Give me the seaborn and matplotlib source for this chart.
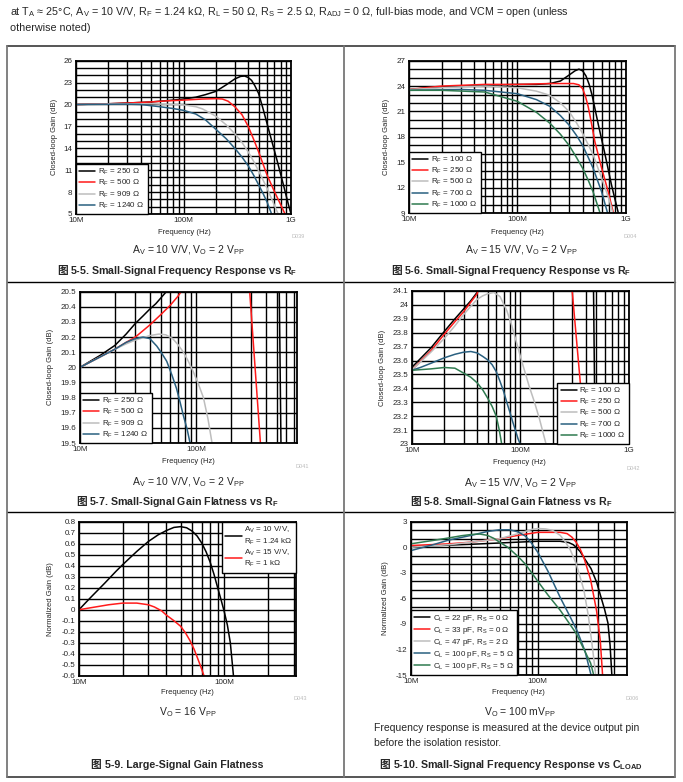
import numpy as np
import matplotlib
matplotlib.use("Agg")
import matplotlib.pyplot as plt
from matplotlib.lines import Line2D
from matplotlib.ticker import FixedLocator, LogLocator, FuncFormatter, NullFormatter
import seaborn as sns

sns.set_style("white")
plt.rcParams['font.family'] = ['Liberation Sans', 'Noto Sans CJK SC', 'DejaVu Sans']
plt.rcParams['mathtext.fontset'] = 'custom'
plt.rcParams['mathtext.rm'] = 'Liberation Sans'
plt.rcParams['mathtext.it'] = 'Liberation Sans:italic'
plt.rcParams['mathtext.bf'] = 'Liberation Sans:bold'

# ---- data (frequency in MHz, gain in dB) ----
# Fig 5-5
f55_250 = [10, 20, 30, 50, 80, 100, 130, 160, 200, 250, 300, 340, 370, 400, 430, 460, 500, 550, 640, 740, 850, 950, 1000]
g55_250 = [20.0, 20.1, 20.2, 20.35, 20.6, 20.75, 21.0, 21.35, 21.8, 22.7, 23.5, 23.85, 23.9, 23.7, 23.3, 22.6, 21.5, 19.4, 15.8, 12.4, 9.0, 6.2, 5.0]
f55_500 = [10, 20, 30, 50, 70, 100, 150, 200, 230, 260, 300, 350, 400, 450, 500, 600, 700, 800, 880]
g55_500 = [20.0, 20.1, 20.2, 20.35, 20.5, 20.6, 20.75, 20.8, 20.75, 20.45, 19.7, 18.6, 17.0, 15.2, 13.5, 10.3, 8.1, 6.3, 5.0]
f55_909 = [10, 30, 50, 80, 100, 130, 150, 200, 250, 300, 350, 400, 450, 500, 600, 700, 760]
g55_909 = [20.0, 20.1, 20.1, 20.0, 19.95, 19.7, 19.4, 18.4, 17.2, 16.0, 14.8, 13.5, 12.2, 10.9, 8.5, 6.2, 5.0]
f55_1240 = [10, 30, 40, 60, 80, 100, 130, 160, 200, 250, 300, 350, 400, 450, 500, 550, 600, 660]
g55_1240 = [20.0, 20.05, 20.0, 19.7, 19.45, 19.2, 18.7, 17.9, 16.6, 15.3, 14.0, 12.8, 11.6, 10.3, 9.0, 7.8, 6.6, 5.0]

# Fig 5-6
f56_100 = [10, 20, 30, 50, 100, 150, 200, 250, 300, 340, 370, 400, 430, 460, 490, 560, 645, 740, 855]
g56_100 = [23.6, 23.9, 24.0, 24.1, 24.2, 24.2, 24.3, 24.6, 25.3, 25.8, 26.0, 25.8, 25.2, 24.2, 22.9, 19.4, 15.9, 12.3, 9.0]
f56_250 = [10, 20, 50, 100, 200, 300, 330, 370, 400, 425, 450, 470, 520, 600, 690, 770]
g56_250 = [23.6, 24.0, 24.2, 24.2, 24.3, 24.3, 24.3, 24.15, 23.7, 22.8, 21.6, 20.4, 17.4, 14.3, 11.5, 9.0]
f56_500 = [10, 30, 50, 100, 150, 200, 250, 300, 350, 400, 450, 500, 600, 700, 760]
g56_500 = [23.6, 23.9, 24.0, 23.8, 23.4, 22.9, 22.0, 21.0, 19.7, 18.4, 17.1, 15.9, 13.1, 10.7, 9.0]
f56_700 = [10, 30, 50, 100, 150, 200, 250, 300, 350, 400, 450, 500, 600, 680]
g56_700 = [23.5, 23.6, 23.5, 23.1, 22.4, 21.6, 20.5, 19.4, 18.2, 17.0, 15.6, 14.3, 11.5, 9.0]
f56_1000 = [10, 20, 50, 100, 150, 200, 250, 300, 350, 400, 450, 500, 580]
g56_1000 = [23.5, 23.5, 23.3, 22.2, 20.9, 19.6, 18.3, 17.0, 15.6, 14.3, 12.9, 11.5, 9.0]

# Fig 5-7
f57_250 = [10, 15, 20, 25, 30, 35, 40, 45, 50, 57, 100, 300, 520, 545]
g57_250 = [20.0, 20.08, 20.145, 20.22, 20.29, 20.34, 20.385, 20.42, 20.46, 20.51, 21.0, 23.5, 20.7, 19.3]
f57_500 = [10, 15, 20, 25, 30, 40, 50, 60, 70, 76, 150, 291, 360, 380]
g57_500 = [20.0, 20.07, 20.12, 20.165, 20.2, 20.28, 20.35, 20.41, 20.47, 20.51, 20.9, 20.5, 19.5, 19.2]
f57_909 = [10, 15, 20, 25, 30, 40, 48, 55, 63, 70, 78, 86, 95, 105, 116, 127, 137, 145]
g57_909 = [20.0, 20.07, 20.12, 20.155, 20.18, 20.21, 20.22, 20.215, 20.19, 20.15, 20.1, 20.04, 19.97, 19.89, 19.8, 19.66, 19.51, 19.4]
f57_1240 = [10, 15, 20, 25, 30, 35, 40, 46, 51, 56, 62, 68, 73, 78, 84, 89, 95]
g57_1240 = [20.0, 20.07, 20.12, 20.165, 20.19, 20.2, 20.19, 20.14, 20.09, 20.04, 19.95, 19.86, 19.77, 19.68, 19.59, 19.5, 19.4]

# Fig 5-8
f58_100 = [10, 15, 20, 25, 30, 35, 40, 41, 100, 300, 470, 490, 520]
g58_100 = [23.55, 23.69, 23.81, 23.9, 23.97, 24.03, 24.09, 24.11, 25.0, 26.0, 24.2, 22.9, 20.0]
f58_250 = [10, 15, 20, 25, 30, 35, 40, 41, 100, 300, 362, 390]
g58_250 = [23.53, 23.67, 23.79, 23.88, 23.95, 24.02, 24.08, 24.11, 24.3, 24.1, 23.38, 22.9]
f58_500 = [10, 15, 20, 25, 30, 35, 40, 45, 50, 57, 65, 75, 82, 90, 100, 110, 120, 135, 150, 162, 175]
g58_500 = [23.53, 23.66, 23.76, 23.85, 23.93, 23.99, 24.04, 24.065, 24.08, 24.09, 24.06, 23.96, 23.87, 23.76, 23.63, 23.52, 23.42, 23.3, 23.18, 23.08, 22.98]
f58_700 = [10, 12, 15, 20, 25, 30, 35, 40, 45, 50, 55, 60, 65, 70, 75, 80, 85, 90, 95, 102]
g58_700 = [23.53, 23.55, 23.58, 23.62, 23.645, 23.66, 23.665, 23.655, 23.63, 23.605, 23.57, 23.52, 23.45, 23.38, 23.3, 23.23, 23.16, 23.1, 23.04, 22.98]
f58_1000 = [10, 15, 20, 25, 30, 35, 40, 45, 50, 55, 60, 64, 68]
g58_1000 = [23.53, 23.54, 23.55, 23.545, 23.51, 23.48, 23.44, 23.39, 23.33, 23.27, 23.2, 23.1, 22.98]

# Fig 5-9
f59_av10 = [10, 12, 15, 18, 20, 25, 30, 35, 40, 45, 50, 55, 60, 65, 70, 75, 80, 85, 90, 95, 100, 105, 110, 116]
g59_av10 = [0.0, 0.11, 0.24, 0.35, 0.41, 0.53, 0.62, 0.68, 0.72, 0.748, 0.755, 0.745, 0.715, 0.67, 0.605, 0.525, 0.43, 0.32, 0.2, 0.09, -0.02, -0.14, -0.3, -0.62]
f59_av15 = [10, 13, 16, 20, 25, 30, 33, 37, 40, 45, 50, 54, 58, 62, 65, 69, 72, 75]
g59_av15 = [0.0, 0.025, 0.045, 0.06, 0.06, 0.045, 0.025, -0.01, -0.05, -0.1, -0.15, -0.21, -0.28, -0.36, -0.43, -0.52, -0.59, -0.66]

# Fig 5-10
f510_22 = [10, 20, 30, 50, 70, 100, 150, 175, 190, 200, 215, 230, 262, 290, 313, 335, 356, 370, 382]
g510_22 = [0.1, 0.25, 0.35, 0.5, 0.6, 0.7, 0.7, 0.55, 0.3, 0.0, -0.5, -1.2, -2.5, -4.1, -5.8, -7.3, -8.9, -11.5, -15]
f510_33 = [10, 20, 30, 50, 70, 100, 150, 170, 185, 200, 215, 230, 260, 290, 310, 323]
g510_33 = [0.2, 0.4, 0.6, 1.0, 1.4, 1.75, 1.75, 1.6, 1.2, 0.6, -0.2, -1.2, -3.8, -7.5, -11, -15]
f510_47 = [10, 20, 30, 50, 70, 90, 100, 115, 130, 150, 165, 180, 200, 230, 250, 270, 285]
g510_47 = [0.0, 0.3, 0.6, 1.0, 1.6, 2.1, 2.2, 2.15, 2.0, 1.4, 0.6, -0.3, -1.9, -5.0, -8.1, -12, -15]
f510_100a = [10, 15, 20, 30, 40, 50, 60, 70, 80, 88, 100, 120, 150, 180, 205, 235, 262]
g510_100a = [-0.4, 0.3, 0.85, 1.4, 1.85, 2.05, 2.05, 1.8, 1.3, 0.6, -0.6, -2.8, -5.9, -8.2, -9.9, -12.2, -15]
f510_100b = [10, 15, 20, 25, 30, 35, 40, 45, 50, 58, 70, 80, 100, 120, 150, 200, 260, 275]
g510_100b = [0.4, 0.8, 1.1, 1.35, 1.5, 1.55, 1.4, 1.05, 0.6, 0.0, -1.1, -2.0, -4.0, -5.6, -7.4, -10.1, -13.6, -15]

BLACK, RED, GRAY, BLUE, GREEN = '#000000', '#ff1a1a', '#bdbdbd', '#2a6080', '#2f7a50'
RF = r'R$_\mathrm{F}$'
CL = r'C$_\mathrm{L}$'
RS = r'R$_\mathrm{S}$'

W, H = 683, 782
fig = plt.figure(figsize=(W / 100, H / 100), dpi=100)
renderer = fig.canvas.get_renderer()


def fx(x):
    return x / W


def fy(y):
    return 1 - y / H


def txt(x, y, s, size, **kw):
    kw.setdefault('ha', 'center')
    kw.setdefault('va', 'center')
    return fig.text(fx(x), fy(y), s, fontsize=size, **kw)


def xfmt(v, pos):
    names = {1e7: '10M', 1e8: '100M', 1e9: '1G'}
    for k, n in names.items():
        if abs(v - k) / k < 1e-6:
            return n
    return ''


def yfmt(v, pos):
    if abs(v) < 1e-9:
        return '0'
    return f"{round(v, 1):g}"


def panel(box, series, ylim, yticks, yminor, xmax, leg_loc, ylabel, ylab_x):
    l, t, r, b = box
    ax = fig.add_axes([fx(l), fy(b), fx(r - l), (b - t) / H])
    for f, g, c, lab in series:
        sns.lineplot(x=np.array(f) * 1e6, y=g, ax=ax, color=c, lw=1.1,
                     label=lab, sort=False, estimator=None)
    ax.set_xscale('log')
    ax.set_xlim(1e7, xmax)
    ax.set_ylim(*ylim)
    ax.xaxis.set_major_locator(FixedLocator([1e7, 1e8, 1e9]))
    ax.xaxis.set_major_formatter(FuncFormatter(xfmt))
    ax.xaxis.set_minor_locator(LogLocator(base=10, subs=np.arange(2, 10)))
    ax.xaxis.set_minor_formatter(NullFormatter())
    ax.yaxis.set_major_locator(FixedLocator(yticks))
    ax.yaxis.set_major_formatter(FuncFormatter(yfmt))
    if yminor is not None:
        ax.yaxis.set_minor_locator(FixedLocator(yminor))
    ax.grid(which='both', color='black', lw=1.0)
    ax.set_axisbelow(True)
    ax.tick_params(which='both', length=0, pad=2.5, labelsize=5.8)
    for s in ax.spines.values():
        s.set_color('black')
        s.set_linewidth(1.3)
    ax.set_xlabel('')
    ax.set_ylabel('')
    leg = ax.legend(loc=leg_loc, frameon=True, fancybox=False, edgecolor='black',
                    framealpha=1, borderaxespad=0, fontsize=5.8, handlelength=2.0,
                    handletextpad=0.35, labelspacing=0.12, borderpad=0.4)
    leg.get_frame().set_linewidth(1.0)
    txt(ylab_x, (t + b) / 2, ylabel, 5.5, rotation=90)
    return ax


panel((76, 60.7, 291, 214),
      [(f55_250, g55_250, BLACK, RF + ' = 250 Ω'), (f55_500, g55_500, RED, RF + ' = 500 Ω'),
       (f55_909, g55_909, GRAY, RF + ' = 909 Ω'), (f55_1240, g55_1240, BLUE, RF + ' = 1240 Ω')],
      (5, 26), np.arange(5, 27, 3), np.arange(5, 27, 1), 1e9, 'lower left', 'Closed-loop Gain (dB)', 54)
panel((409, 60.7, 625.7, 213),
      [(f56_100, g56_100, BLACK, RF + ' = 100 Ω'), (f56_250, g56_250, RED, RF + ' = 250 Ω'),
       (f56_500, g56_500, GRAY, RF + ' = 500 Ω'), (f56_700, g56_700, BLUE, RF + ' = 700 Ω'),
       (f56_1000, g56_1000, GREEN, RF + ' = 1000 Ω')],
      (9, 27), np.arange(9, 28, 3), np.arange(9, 28, 1), 1e9, 'lower left', 'Closed-loop Gain (dB)', 387)
panel((80, 291.7, 296.7, 443),
      [(f57_250, g57_250, BLACK, RF + ' = 250 Ω'), (f57_500, g57_500, RED, RF + ' = 500 Ω'),
       (f57_909, g57_909, GRAY, RF + ' = 909 Ω'), (f57_1240, g57_1240, BLUE, RF + ' = 1240 Ω')],
      (19.5, 20.5), np.round(np.arange(19.5, 20.55, 0.1), 1), None, 7.4e8, 'lower left', 'Closed-loop Gain (dB)', 51)
panel((411.7, 291, 629, 444),
      [(f58_100, g58_100, BLACK, RF + ' = 100 Ω'), (f58_250, g58_250, RED, RF + ' = 250 Ω'),
       (f58_500, g58_500, GRAY, RF + ' = 500 Ω'), (f58_700, g58_700, BLUE, RF + ' = 700 Ω'),
       (f58_1000, g58_1000, GREEN, RF + ' = 1000 Ω')],
      (23, 24.1), np.round(np.arange(23, 24.15, 0.1), 1), None, 1e9, 'lower right', 'Closed-loop Gain (dB)', 382)
panel((79, 521.7, 295.7, 675.7),
      [(f59_av10, g59_av10, BLACK, 'A$_\\mathrm{V}$ = 10 V/V,\n' + RF + ' = 1.24 kΩ'),
       (f59_av15, g59_av15, RED, 'A$_\\mathrm{V}$ = 15 V/V,\n' + RF + ' = 1 kΩ')],
      (-0.6, 0.8), np.round(np.arange(-0.6, 0.85, 0.1), 1), None, 3.1e8, 'upper right', 'Normalized Gain (dB)', 51)
panel((410.7, 521.7, 626.7, 675),
      [(f510_22, g510_22, BLACK, CL + ' = 22 pF, ' + RS + ' = 0 Ω'),
       (f510_33, g510_33, RED, CL + ' = 33 pF, ' + RS + ' = 0 Ω'),
       (f510_47, g510_47, GRAY, CL + ' = 47 pF, ' + RS + ' = 2 Ω'),
       (f510_100a, g510_100a, BLUE, CL + ' = 100 pF, ' + RS + ' = 5 Ω'),
       (f510_100b, g510_100b, GREEN, CL + ' = 100 pF, ' + RS + ' = 5 Ω')],
      (-15, 3), np.arange(-15, 4, 3), np.arange(-15, 4, 1), 5e8, 'lower left', 'Normalized Gain (dB)', 385)

# ---- text around the panels ----
txt(10, 12, r'at T$_\mathrm{A}$ ≈ 25°C, A$_\mathrm{V}$ = 10 V/V, R$_\mathrm{F}$ = 1.24 kΩ, R$_\mathrm{L}$ = 50 Ω, '
    r'R$_\mathrm{S}$ = 2.5 Ω, R$_\mathrm{ADJ}$ = 0 Ω, full-bias mode, and VCM = open (unless', 7.75, ha='left')
txt(10, 28, 'otherwise noted)', 7.75, ha='left')

SUB10 = r'A$_\mathrm{V}$ = 10 V/V, V$_\mathrm{O}$ = 2 V$_\mathrm{PP}$'
SUB15 = r'A$_\mathrm{V}$ = 15 V/V, V$_\mathrm{O}$ = 2 V$_\mathrm{PP}$'
RFB = r'R$_\mathbf{F}$'
LC, RC = 177, 511
labels = [
    ((184, 232), ('D039', 298, 237), (SUB10, 188, 250), ('5-5. Small-Signal Frequency Response vs ' + RFB, LC, 271)),
    ((517, 232), ('D004', 630, 236), (SUB15, 521, 250), ('5-6. Small-Signal Frequency Response vs ' + RFB, RC, 271)),
    ((188, 462), ('D041', 302, 466), (SUB10, 188, 482), ('5-7. Small-Signal Gain Flatness vs ' + RFB, LC, 502)),
    ((519, 463), ('D042', 633, 468), (SUB15, 520, 483), ('5-8. Small-Signal Gain Flatness vs ' + RFB, RC, 502)),
    ((187, 693), ('D043', 300, 698), (r'V$_\mathrm{O}$ = 16 V$_\mathrm{PP}$', 188, 712),
     ('5-9. Large-Signal Gain Flatness', LC, 765)),
    ((518, 693), ('D006', 632, 698), (r'V$_\mathrm{O}$ = 100 mV$_\mathrm{PP}$', 520, 712),
     ('5-10. Small-Signal Frequency Response vs C$_\\mathbf{LOAD}$', RC, 765)),
]
for (xl, yl), (code, cx, cy), (sub, sx, sy), (cap, kx, ky) in labels:
    txt(xl, yl, 'Frequency (Hz)', 5.5)
    txt(cx, cy, code, 4, color='#bbbbbb')
    txt(sx, sy, sub, 7.5)
    # the CJK figure mark is its own text, the mathtext caption follows it;
    # the pair is centred on the column
    gap = 13 if '$' in cap else 14.5
    t2 = txt(0, ky, cap, 7.7, ha='left', fontweight='bold')
    wcap = t2.get_window_extent(renderer).width
    x0 = kx - (wcap + gap) / 2
    t2.set_x(fx(x0 + gap))
    txt(x0, ky, '图', 7.7, ha='left', fontweight='bold', family=['Noto Sans CJK SC', 'DejaVu Sans'])

txt(374, 728, 'Frequency response is measured at the device output pin', 7.5, ha='left')
txt(374, 743, 'before the isolation resistor.', 7.5, ha='left')

# ---- table frame ----
L, M, R = 7, 344, 675
for y in (46, 777):
    fig.add_artist(Line2D([fx(L), fx(R)], [fy(y), fy(y)], color='#555555', lw=1.4))
for y in (282, 512):
    fig.add_artist(Line2D([fx(L), fx(R)], [fy(y), fy(y)], color='black', lw=1.0))
for x in (L, M, R):
    fig.add_artist(Line2D([fx(x), fx(x)], [fy(46), fy(777)], color='#777777', lw=1.3))

fig.savefig('out.png', dpi=100)
